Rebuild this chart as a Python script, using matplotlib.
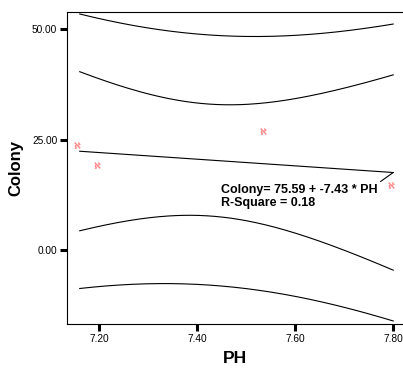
import numpy as np
import matplotlib
matplotlib.use("Agg")
import matplotlib.pyplot as plt
import matplotlib.transforms as mtrans

plt.rcParams['font.family'] = ['Liberation Sans', 'DejaVu Sans']

# Data
ph = np.array([7.16, 7.20, 7.54, 7.80])
colony = np.array([23.0, 18.6, 26.1, 13.9])

x_ticks = [7.20, 7.40, 7.60, 7.80]
x_tick_labels = ["7.20", "7.40", "7.60", "7.80"]
y_ticks = [0, 25, 50]
y_tick_labels = ["0.00", "25.00", "50.00"]
eq_text = "Colony= 75.59 + -7.43 * PH\nR-Square = 0.18"
t_crit = 4.303  # t(0.975, df=2)

# Fit and 95% bands
n = len(ph)
b1, b0 = np.polyfit(ph, colony, 1)
resid = colony - (b0 + b1 * ph)
s = np.sqrt(np.sum(resid ** 2) / (n - 2))
xm = ph.mean()
sxx = np.sum((ph - xm) ** 2)
xs = np.linspace(ph.min(), ph.max(), 200)
yhat = b0 + b1 * xs
se_mean = s * np.sqrt(1 / n + (xs - xm) ** 2 / sxx)
se_pred = s * np.sqrt(1 + 1 / n + (xs - xm) ** 2 / sxx)

fig = plt.figure(figsize=(4.03, 3.70), dpi=100)
ax = fig.add_axes([67 / 403, 1 - 324 / 370, 1 - 67 / 403, (324 - 12) / 370])

lw = 0.8
ax.plot(xs, yhat, color='black', lw=lw)
ax.plot(xs, yhat + t_crit * se_mean, color='black', lw=lw)
ax.plot(xs, yhat - t_crit * se_mean, color='black', lw=lw)
ax.plot(xs, yhat + t_crit * se_pred, color='black', lw=lw)
ax.plot(xs, yhat - t_crit * se_pred, color='black', lw=lw)

off = mtrans.offset_copy(ax.transData, fig=fig, x=-2.7, y=3.5, units='dots')
ax.plot(ph, colony, linestyle='none', marker='$\\aleph$', markersize=4.5,
        color='#ff8080', markeredgewidth=0.3, transform=off)

ax.annotate(eq_text, xy=(xs[-1], yhat[-1]), xytext=(-172, -11),
            textcoords='offset pixels', ha='left', va='top',
            fontsize=9, fontweight='bold', linespacing=1.12,
            arrowprops=dict(arrowstyle='-', relpos=(1, 1), shrinkA=0,
                            shrinkB=0, lw=0.8, color='black'))

ax.set_xlim(7.134, 7.82)
ax.set_ylim(-16.7, 53.9)
ax.set_xticks(x_ticks)
ax.set_xticklabels(x_tick_labels)
ax.set_yticks(y_ticks)
ax.set_yticklabels(y_tick_labels)
ax.tick_params(direction='out', length=5, width=2.2, labelsize=7.3, pad=2)
for side in ['left', 'bottom', 'top']:
    ax.spines[side].set_linewidth(0.8)
ax.spines['right'].set_visible(False)

ax.set_xlabel('PH', fontsize=12.5, fontweight='bold', labelpad=5)
ax.set_ylabel('Colony', fontsize=12, fontweight='bold', labelpad=6)

fig.savefig('out.png', dpi=100)
